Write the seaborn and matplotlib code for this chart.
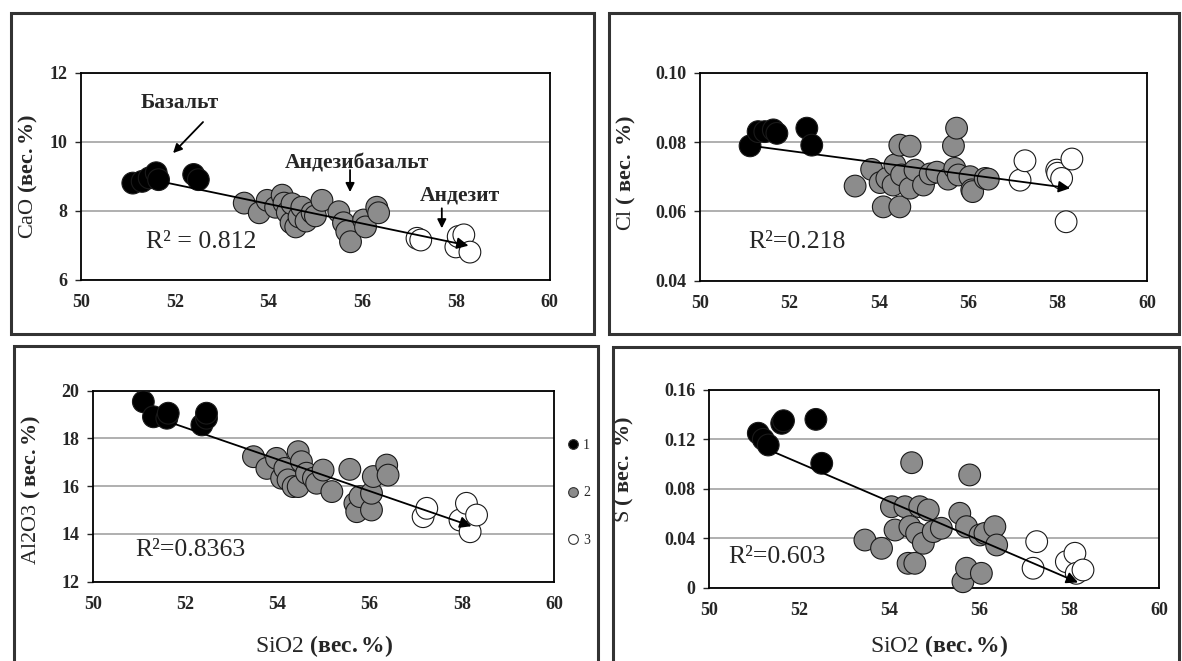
import numpy as np
import pandas as pd
import matplotlib
matplotlib.use('Agg')
import matplotlib.pyplot as plt
from matplotlib.patches import Rectangle
from matplotlib.lines import Line2D
import seaborn as sns

# ---- values ----
groups = ['1', '2', '3']
group_colors = {'1': '#000000', '2': '#8c8c8c', '3': '#ffffff'}

sio2_ticks = [50, 52, 54, 56, 58, 60]

cao_sio2 = [51.1, 51.3, 51.45, 51.6, 51.65, 52.4, 52.5,
            53.48, 53.8, 53.97, 54.15, 54.29, 54.33, 54.4, 54.48, 54.5, 54.58, 54.65, 54.71,
            54.8, 54.93, 55.0, 55.14, 55.5, 55.6, 55.67, 55.75, 56.03, 56.07, 56.31, 56.35,
            57.17, 57.25, 58.0, 58.05, 58.17, 58.3]
cao = [8.8, 8.85, 8.95, 9.1, 8.9, 9.05, 8.9,
       8.22, 7.94, 8.3, 8.1, 8.45, 8.22, 7.95, 7.65, 8.2, 7.53, 7.82, 8.1,
       7.7, 7.94, 7.85, 8.3, 7.97, 7.65, 7.4, 7.1, 7.73, 7.53, 8.1, 7.94,
       7.2, 7.15, 6.95, 7.25, 7.3, 6.8]
cao_grp = ['1'] * 7 + ['2'] * 24 + ['3'] * 6

cl_sio2 = [51.12, 51.3, 51.45, 51.64, 51.72, 52.39, 52.5,
           53.47, 53.84, 54.03, 54.1, 54.18, 54.32, 54.36, 54.47, 54.47, 54.51, 54.7, 54.7, 54.81,
           55.0, 55.15, 55.3, 55.55, 55.67, 55.7, 55.74, 55.78, 56.04, 56.08, 56.1, 56.38, 56.45,
           57.16, 57.27, 57.98, 58.0, 58.09, 58.19, 58.32]
cl = [0.0789, 0.083, 0.083, 0.0835, 0.0825, 0.084, 0.0791,
      0.0673, 0.0721, 0.0683, 0.0613, 0.0695, 0.0676, 0.0734, 0.0791, 0.0613, 0.0705, 0.0788, 0.0667, 0.0719,
      0.0676, 0.0708, 0.0713, 0.0693, 0.0789, 0.0724, 0.084, 0.0705, 0.07, 0.0662, 0.0657, 0.0695, 0.0693,
      0.069, 0.0746, 0.0719, 0.071, 0.0695, 0.057, 0.0751]
cl_grp = ['1'] * 7 + ['2'] * 26 + ['3'] * 7

al_sio2 = [51.09, 51.31, 51.6, 51.63, 52.36, 52.46, 52.46,
           53.48, 53.77, 53.98, 54.09, 54.16, 54.23, 54.34, 54.45, 54.45, 54.52, 54.63, 54.78,
           54.85, 54.99, 55.18, 55.57, 55.68, 55.72, 55.79, 56.04, 56.04, 56.08, 56.37, 56.4,
           57.16, 57.24, 57.96, 58.1, 58.18, 58.32]
al2o3 = [19.53, 18.9, 18.84, 19.05, 18.56, 18.84, 19.05,
         17.23, 16.74, 17.16, 16.33, 16.74, 16.26, 15.98, 17.44, 15.98, 17.02, 16.54, 16.33,
         16.12, 16.67, 15.77, 16.7, 15.28, 14.93, 15.56, 15.0, 15.7, 16.4, 16.88, 16.46,
         14.72, 15.07, 14.58, 15.28, 14.09, 14.79]
al_grp = ['1'] * 7 + ['2'] * 24 + ['3'] * 6

s_sio2 = [51.09, 51.2, 51.31, 51.61, 51.65, 52.37, 52.5,
          53.46, 53.83, 54.05, 54.13, 54.35, 54.42, 54.46, 54.5, 54.57, 54.61, 54.68, 54.76, 54.87,
          54.98, 55.16, 55.57, 55.64, 55.72, 55.72, 55.79, 56.02, 56.05, 56.13, 56.35, 56.39,
          57.2, 57.28, 57.94, 58.13, 58.16, 58.31]
sulfur = [0.1249, 0.12, 0.1154, 0.1329, 0.135, 0.1361, 0.1006,
          0.0386, 0.0319, 0.0655, 0.0467, 0.0655, 0.0198, 0.0494, 0.1011, 0.0198, 0.044, 0.0655, 0.036, 0.0629,
          0.0454, 0.0481, 0.0602, 0.0049, 0.0494, 0.0158, 0.0912, 0.0427, 0.0117, 0.044, 0.0494, 0.0346,
          0.0158, 0.0373, 0.0211, 0.0279, 0.0117, 0.0144]
s_grp = ['1'] * 7 + ['2'] * 25 + ['3'] * 6

# trend arrows span (SiO2 start / end) and R² labels
trend_span = {'cao': (51.83, 58.27), 'cl': (51.34, 58.28), 'al': (51.78, 58.21), 's': (51.39, 58.2)}
r2_labels = {'cao': 'R² = 0.812', 'cl': 'R²=0.218', 'al': 'R²=0.8363', 's': 'R²=0.603'}

sns.set_style('white')
plt.rcParams['font.family'] = ['Liberation Serif', 'DejaVu Serif']
plt.rcParams['mathtext.fontset'] = 'custom'
plt.rcParams['mathtext.rm'] = 'Liberation Serif'
plt.rcParams['mathtext.bf'] = 'Liberation Serif:bold'
plt.rcParams['mathtext.it'] = 'Liberation Serif:italic'

W, H = 1182, 661
fig = plt.figure(figsize=(W / 100, H / 100), dpi=100)


def px_rect(l, t, r, b):
    return [l / W, (H - b) / H, (r - l) / W, (b - t) / H]


# outer boxes around each sub-chart
for box in [(11, 13, 594, 334), (609, 13, 1179, 334), (14, 346, 598, 720), (613, 347, 1179, 720)]:
    x0, y0, w, h = px_rect(*box)
    fig.patches.append(Rectangle((x0, y0), w, h, transform=fig.transFigure,
                                 fill=False, ec='#333333', lw=2.2))


def draw_panel(ax, x, y, grp, yticks, yticklabels, ylabel, key, r2_xy, ylab_xy):
    df = pd.DataFrame({'SiO2': x, 'val': y, 'group': grp})
    sns.scatterplot(data=df, x='SiO2', y='val', hue='group', hue_order=groups,
                    palette=group_colors, s=245, edgecolor='#1a1a1a', linewidth=0.8,
                    legend=False, ax=ax, zorder=3, clip_on=False)
    k, b = np.polyfit(x, y, 1)
    x0, x1 = trend_span[key]
    ax.annotate('', xy=(x1, k * x1 + b), xytext=(x0, k * x0 + b),
                arrowprops=dict(arrowstyle='-|>', color='black', lw=1.3,
                                mutation_scale=17, shrinkA=0, shrinkB=0), zorder=6)
    ax.text(r2_xy[0], r2_xy[1], r2_labels[key], fontsize=18.5, ha='left', va='center', zorder=7)

    ax.set_xlim(50, 60)
    ax.set_xticks(sio2_ticks)
    ax.set_ylim(yticks[0], yticks[-1])
    ax.set_yticks(yticks)
    ax.set_yticklabels(yticklabels)
    ax.yaxis.grid(True, color='#9a9a9a', lw=1.1)
    ax.xaxis.grid(False)
    ax.set_axisbelow(True)
    for sp in ax.spines.values():
        sp.set_color('black')
        sp.set_linewidth(1.3)
    ax.tick_params(axis='x', direction='in', length=4, width=1, pad=10, labelsize=13)
    ax.tick_params(axis='y', direction='out', length=4, width=1, pad=6, labelsize=13, left=True)
    for lab in ax.get_xticklabels() + ax.get_yticklabels():
        lab.set_fontweight('bold')
    ax.set_xlabel('')
    ax.set_ylabel(ylabel, fontsize=16)
    ax.yaxis.set_label_coords(*ylab_xy)


ax_cao = fig.add_axes(px_rect(81.3, 72.7, 549.5, 279.7))
draw_panel(ax_cao, cao_sio2, cao, cao_grp, [6, 8, 10, 12], ['6', '8', '10', '12'],
           r'CaO $\mathbf{(вес.\%)}$', 'cao', (51.39, 7.09), (-0.088, 0.5))

ax_cl = fig.add_axes(px_rect(700, 72.7, 1147, 280.7))
draw_panel(ax_cl, cl_sio2, cl, cl_grp, [0.04, 0.06, 0.08, 0.10], ['0.04', '0.06', '0.08', '0.10'],
           r'Cl $\mathbf{(\ вес.\ \%)}$', 'cl', (51.08, 0.0513), (-0.139, 0.52))

ax_al = fig.add_axes(px_rect(93.1, 390.5, 554, 581.7))
draw_panel(ax_al, al_sio2, al2o3, al_grp, [12, 14, 16, 18, 20], ['12', '14', '16', '18', '20'],
           r'Al2O3 $\mathbf{(\ вес.\%)}$', 'al', (50.91, 13.33), (-0.109, 0.48))

ax_s = fig.add_axes(px_rect(709.3, 389.8, 1159, 587.8))
draw_panel(ax_s, s_sio2, sulfur, s_grp, [0, 0.04, 0.08, 0.12, 0.16], ['0', '0.04', '0.08', '0.12', '0.16'],
           r'S $\mathbf{(\ вес.\ \%)}$', 's', (50.42, 0.0251), (-0.163, 0.6))

for ax in (ax_al, ax_s):
    ax.set_xlabel(r'SiO2 $\mathbf{(вес.\%)}$', fontsize=17)
ax_al.xaxis.set_label_coords(0.5, -0.27)
ax_s.xaxis.set_label_coords(0.51, -0.23)

# rock-type annotations on the CaO chart
ann = dict(fontsize=15.5, fontweight='bold', ha='center', va='center')
arr = dict(arrowstyle='-|>', color='black', lw=1.3, mutation_scale=13, shrinkA=0, shrinkB=0)
ax_cao.text(52.11, 11.12, 'Базальт', **ann)
ax_cao.annotate('', xy=(51.96, 9.67), xytext=(52.6, 10.57), arrowprops=arr)
ax_cao.text(55.89, 9.38, 'Андезибазальт', **ann)
ax_cao.annotate('', xy=(55.74, 8.54), xytext=(55.74, 9.18), arrowprops=arr)
ax_cao.text(58.09, 8.45, 'Андезит', **ann)
ax_cao.annotate('', xy=(57.7, 7.49), xytext=(57.7, 8.07), arrowprops=arr)

# legend of rock groups
handles = [Line2D([], [], marker='o', ls='', markerfacecolor=group_colors[g],
                  markeredgecolor='#333333', markeredgewidth=0.8, markersize=7, label=g)
           for g in groups]
ax_al.legend(handles=handles, loc='center left', bbox_to_anchor=(1.03, 0.464), frameon=False,
             fontsize=10, labelspacing=2.5, handlelength=0.8, handletextpad=0.3,
             borderpad=0, borderaxespad=0)

fig.savefig('out.png', dpi=100, facecolor='white')
